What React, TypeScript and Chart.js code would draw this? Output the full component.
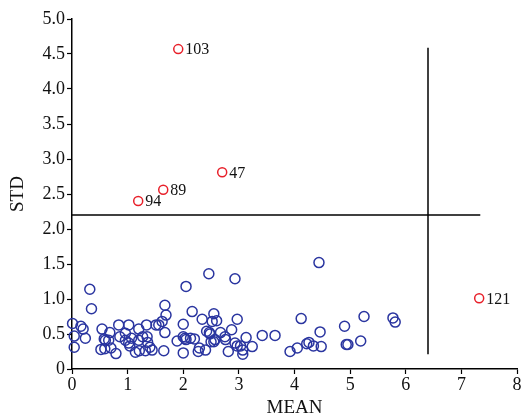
import React, { useEffect, useRef } from "react";
import { Chart, registerables } from "chart.js";
Chart.register(...registerables);

const xTicks = [0, 1, 2, 3, 4, 5, 6, 7, 8];
const yTicks = [0, 0.5, 1, 1.5, 2, 2.5, 3, 3.5, 4, 4.5, 5];

const blueMean = [
  0.01, 0.04, 0.04, 0.32, 0.35, 0.16, 0.2, 0.24, 0.54, 0.52, 0.6, 0.68, 0.58, 0.59, 0.66, 0.7, 0.79, 0.84, 0.86,
  0.96, 1.02, 0.96, 1.02, 1.07, 1.04, 1.14, 1.2, 1.2, 1.21, 1.27, 1.32, 1.34, 1.35, 1.36, 1.4, 1.44, 1.51, 1.56,
  1.62, 1.67, 1.69, 1.67, 1.65, 1.89, 2.0, 2.05, 2.0, 2.03, 2.05, 2.0, 2.16, 2.13, 2.2, 2.27, 2.29, 2.34, 2.4,
  2.46, 2.42, 2.47, 2.55, 2.52, 2.55, 2.6, 2.93, 4.44, 2.97, 2.48, 2.67, 2.57, 2.5, 2.76, 2.75, 2.81, 2.87, 2.93,
  2.97, 3.03, 3.07, 3.07, 3.13, 3.24, 3.42, 3.65, 3.92, 4.05, 4.12, 4.22, 4.26, 4.34, 4.46, 4.48, 4.9, 4.93, 4.96,
  5.19, 5.25, 5.77, 5.81,
];
const blueStd = [
  0.65, 0.47, 0.31, 1.14, 0.86, 0.61, 0.57, 0.44, 0.57, 0.28, 0.41, 0.52, 0.43, 0.29, 0.41, 0.3, 0.22, 0.63, 0.46,
  0.51, 0.63, 0.41, 0.37, 0.44, 0.33, 0.24, 0.57, 0.41, 0.26, 0.46, 0.26, 0.63, 0.46, 0.38, 0.31, 0.27, 0.63, 0.63,
  0.68, 0.91, 0.77, 0.52, 0.26, 0.4, 0.64, 1.18, 0.46, 0.44, 0.42, 0.23, 0.82, 0.44, 0.43, 0.25, 0.3, 0.71, 0.27,
  1.36, 0.54, 0.52, 0.79, 0.68, 0.39, 0.69, 1.29, 1.52, 0.71, 0.5, 0.52, 0.42, 0.39, 0.42, 0.46, 0.25, 0.56, 0.37,
  0.33, 0.33, 0.27, 0.21, 0.45, 0.32, 0.48, 0.48, 0.25, 0.3, 0.72, 0.36, 0.38, 0.33, 0.53, 0.32, 0.61, 0.35, 0.35,
  0.4, 0.75, 0.73, 0.67,
];

const outlierIds = ["103", "47", "89", "94", "121"];
const outlierMean = [1.91, 2.7, 1.64, 1.19, 7.32];
const outlierStd = [4.57, 2.81, 2.56, 2.4, 1.01];

const hLineX = [0, 7.34];
const hLineY = [2.2, 2.2];
const vLineX = [6.4, 6.4];
const vLineY = [0.21, 4.59];

const FONT = "'Liberation Serif', 'Times New Roman', serif";

const labelPlugin = {
  id: "outlierLabels",
  afterDatasetsDraw(chart: any) {
    const meta = chart.getDatasetMeta(1);
    const ctx = chart.ctx;
    ctx.save();
    ctx.fillStyle = "#111";
    ctx.font = `16px ${FONT}`;
    ctx.textAlign = "left";
    ctx.textBaseline = "middle";
    meta.data.forEach((el: any, i: number) => {
      ctx.fillText(outlierIds[i], el.x + 7, el.y + 1);
    });
    ctx.restore();
  },
};

export default function App() {
  const ref = useRef<HTMLCanvasElement>(null);
  useEffect(() => {
    document.body.style.margin = "0";
    const chart = new Chart(ref.current!, {
      type: "scatter",
      data: {
        datasets: [
          {
            data: blueMean.map((x, i) => ({ x, y: blueStd[i] })),
            borderColor: "#2a35a0",
            backgroundColor: "rgba(0,0,0,0)",
            borderWidth: 1.5,
            pointRadius: 5,
            clip: false,
          } as any,
          {
            data: outlierMean.map((x, i) => ({ x, y: outlierStd[i] })),
            borderColor: "#e8202a",
            backgroundColor: "rgba(0,0,0,0)",
            borderWidth: 1.5,
            pointRadius: 4.5,
            clip: false,
          },
          {
            data: hLineX.map((x, i) => ({ x, y: hLineY[i] })),
            showLine: true,
            borderColor: "#000",
            borderWidth: 1.5,
            pointRadius: 0,
          },
          {
            data: vLineX.map((x, i) => ({ x, y: vLineY[i] })),
            showLine: true,
            borderColor: "#000",
            borderWidth: 1.5,
            pointRadius: 0,
          },
        ],
      },
      options: {
        animation: false,
        responsive: false,
        layout: { padding: { top: 19, right: 11, left: 0, bottom: 0 } },
        plugins: { legend: { display: false }, tooltip: { enabled: false } },
        scales: {
          x: {
            type: "linear",
            min: 0,
            max: 8,
            afterBuildTicks: (s: any) => {
              s.ticks = xTicks.map((v) => ({ value: v }));
            },
            afterFit: (s: any) => {
              s.height = 50;
            },
            ticks: { color: "#111", font: { family: FONT, size: 18 }, padding: 0 },
            grid: { drawOnChartArea: false, tickLength: 5, tickColor: "#000", tickWidth: 1.2 },
            border: { color: "#000", width: 1.5 },
            title: {
              display: true,
              text: "MEAN",
              color: "#111",
              font: { family: FONT, size: 19 },
              padding: { top: -3, bottom: 0 },
            },
          },
          y: {
            type: "linear",
            min: 0,
            max: 5,
            afterBuildTicks: (s: any) => {
              s.ticks = yTicks.map((v) => ({ value: v }));
            },
            afterFit: (s: any) => {
              s.width = 72;
            },
            ticks: {
              color: "#111",
              font: { family: FONT, size: 18 },
              padding: 2,
              callback: (v: any) => (v === 0 ? "0" : Number(v).toFixed(1)),
            },
            grid: { drawOnChartArea: false, tickLength: 5, tickColor: "#000", tickWidth: 1.2 },
            border: { color: "#000", width: 1.5 },
            title: {
              display: true,
              text: "STD",
              color: "#111",
              font: { family: FONT, size: 19 },
              padding: { top: 7, bottom: 4 },
            },
          },
        },
      },
      plugins: [labelPlugin],
    });
    return () => chart.destroy();
  }, []);
  return (
    <div style={{ position: "relative", width: 528, height: 419, background: "#fff" }}>
      <canvas ref={ref} width={528} height={419} />
    </div>
  );
}
